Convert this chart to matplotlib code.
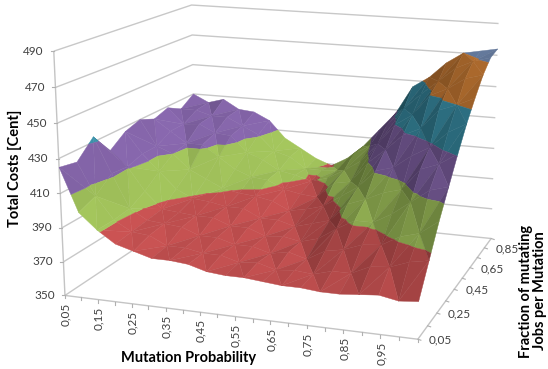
import numpy as np
import matplotlib
matplotlib.use("Agg")
import matplotlib.pyplot as plt
from matplotlib.collections import PolyCollection

plt.rcParams['font.family'] = ['Lato', 'DejaVu Sans']

# tick labels, comma decimals as printed
mutation_labels = ["0,05", "0,15", "0,25", "0,35", "0,45", "0,55", "0,65", "0,75", "0,85", "0,95"]
fraction_labels = ["0,05", "0,25", "0,45", "0,65", "0,85"]
cost_ticks = [350, 370, 390, 410, 430, 450, 470, 490]

mutation_prob = np.arange(20) * 0.05 + 0.05
job_fraction = np.arange(10) * 0.1 + 0.05

# total cost per mutation probability, one value per job fraction 0.05 .. 0.95
p05 = [425, 423, 433, 420, 427, 430, 426, 429, 424, 430]
p10 = [400, 404, 412, 411, 414, 414, 419, 419, 424, 425]
p15 = [391, 391, 392, 397, 404, 410, 412, 420, 421, 428]
p20 = [384, 385, 386, 387, 394, 401, 412, 415, 421, 422]
p25 = [381, 384, 385, 386, 389, 396, 405, 414, 416, 421]
p30 = [378, 379, 384, 385, 388, 391, 398, 404, 411, 416]
p35 = [378, 379, 380, 385, 386, 389, 394, 400, 401, 405]
p40 = [377, 377, 380, 381, 386, 388, 393, 394, 398, 399]
p45 = [374, 377, 377, 381, 381, 386, 388, 392, 391, 393]
p50 = [373, 374, 377, 377, 381, 381, 386, 389, 391, 389]
p55 = [373, 375, 374, 378, 378, 383, 385, 392, 392, 395]
p60 = [372, 372, 376, 376, 381, 386, 395, 398, 404, 404]
p65 = [371, 373, 373, 379, 384, 393, 397, 405, 410, 416]
p70 = [371, 372, 379, 386, 395, 400, 410, 417, 425, 428]
p75 = [370, 375, 381, 392, 399, 411, 419, 430, 436, 446]
p80 = [370, 375, 385, 392, 404, 414, 429, 437, 446, 453]
p85 = [371, 380, 386, 398, 407, 422, 434, 450, 455, 463]
p90 = [372, 381, 392, 406, 420, 428, 446, 455, 464, 470]
p95 = [370, 385, 395, 414, 424, 438, 450, 462, 469, 472]
p100 = [371, 387, 403, 417, 431, 444, 455, 465, 472, 474]
costs = np.array([p05, p10, p15, p20, p25, p30, p35, p40, p45, p50,
                  p55, p60, p65, p70, p75, p80, p85, p90, p95, p100], dtype=float)

band_colors = ['#4f81bd', '#c04f4f', '#9cbc58', '#8263a6', '#3a90a8', '#cc7d35', '#7189b0']


# camera: box corners (0..1 along each axis) and where they land on the canvas
corners3d = np.array([[0, 0, 0], [0, 0, 1], [1, 0, 0], [1, 1, 0],
                      [1, 1, 1], [0, 1, 1], [0, 1, 0], [1, 0, 1]], dtype=float)
corners2d = np.array([[65, 293], [53, 49], [419, 340], [491, 237],
                      [498, 21], [193, 6], [195, 211], [423, 82]], dtype=float)
rows = []
for (X, Y, Z), (u, v) in zip(corners3d, corners2d):
    rows.append([X, Y, Z, 1, 0, 0, 0, 0, -u * X, -u * Y, -u * Z, -u])
    rows.append([0, 0, 0, 0, X, Y, Z, 1, -v * X, -v * Y, -v * Z, -v])
P = np.linalg.svd(np.array(rows))[2][-1].reshape(3, 4)
if (P @ [0.5, 0.5, 0.5, 1])[2] < 0:
    P = -P


def project(pts):
    pts = np.atleast_2d(pts)
    h = P @ np.c_[pts, np.ones(len(pts))].T
    return (h[:2] / h[2]).T, h[2]


def floor_point(x, y):
    return project([x, y, 0.0])[0][0]


def clip_band(tri, lo, hi):
    # keep the part of a triangle that lies between two cost levels
    poly = list(tri)
    for level, sign in ((lo, 1), (hi, -1)):
        out = []
        for i in range(len(poly)):
            a, b = poly[i], poly[(i + 1) % len(poly)]
            da, db = sign * (a[2] - level), sign * (b[2] - level)
            if da >= 0:
                out.append(a)
            if da * db < 0:
                out.append(a + (b - a) * da / (da - db))
        poly = out
        if not poly:
            break
    return poly


fig = plt.figure(figsize=(5.48, 3.69), dpi=100)
ax = fig.add_axes([0, 0, 1, 1])
ax.set_xlim(0, 548)
ax.set_ylim(369, 0)
ax.axis('off')


def line3d(x, y, z, **kw):
    uv = project(np.c_[x, y, z])[0]
    ax.plot(uv[:, 0], uv[:, 1], solid_capstyle='butt', **kw)


# walls
grid = dict(color='#c8c8c8', lw=1.0, zorder=1)
for c in cost_ticks:
    h = (c - 350) / 140.0
    line3d([0, 0, 1], [0, 1, 1], [h, h, h], **grid)

# axes and tick marks
axis = dict(color='#c4c4c4', lw=1.0, zorder=1)
tick = dict(color='#b0b0b0', lw=0.8, zorder=1)
line3d([0, 0], [0, 0], [0, 1], **axis)
line3d([0, 1, 1], [0, 0, 1], [0, 0, 0], **axis)
for c in cost_ticks:
    uv = project([0, 0, (c - 350) / 140.0])[0][0]
    ax.plot([uv[0] - 3, uv[0]], [uv[1], uv[1]], **tick)
    ax.text(uv[0] - 10, uv[1], str(c), ha='right', va='center', fontsize=8.5, color='#404040')
# one tick per category slot, the axis ends one slot past the last labelled pair
for k in range(21):
    uv = floor_point(k / 20, 0)
    ax.plot([uv[0], uv[0]], [uv[1], uv[1] + 3], **tick)
for i, lab in enumerate(mutation_labels):
    uv = floor_point(2 * i / 20, 0)
    ax.text(uv[0] + 1, uv[1] + 7, lab, rotation=90, ha='center', va='top', fontsize=8.5, color='#404040')
for k in range(10):
    uv = floor_point(1, k / 9)
    ax.plot([uv[0], uv[0] + 3], [uv[1], uv[1] + 1], **tick)
for i, lab in enumerate(fraction_labels):
    uv = floor_point(1, 2 * i / 9)
    ax.text(uv[0] + 11, uv[1] + 1, lab, ha='left', va='center', fontsize=8.5, color='#404040')

# surface, split into triangles and cut along the cost bands
light = np.array([0.62, -0.12, 0.78])
light = light / np.linalg.norm(light)
scale = np.array([1.0, 0.75, 0.8])
nm, nf = costs.shape
M, F = np.meshgrid(mutation_prob, job_fraction, indexing='ij')
bx, by = (M - 0.05) / 0.95, (F - 0.05) / 0.9
grid_pts = np.dstack([bx, by, costs])

# vertex normals give the broad shading, facet normals only add some texture
dzdx = np.gradient(costs / 140.0 * scale[2], bx[:, 0] * scale[0], axis=0)
dzdy = np.gradient(costs / 140.0 * scale[2], by[0] * scale[1], axis=1)
smooth_n = np.dstack([-dzdx, -dzdy, np.ones_like(costs)])
smooth_n = smooth_n / np.linalg.norm(smooth_n, axis=2, keepdims=True)


def tone(n):
    return 0.58 + 0.48 * (n @ light)


faces = []
for i in range(nm - 1):
    for j in range(nf - 1):
        a, b, c, d = (i, j), (i + 1, j), (i + 1, j + 1), (i, j + 1)
        if (i + j) % 2 == 0:
            faces += [(a, b, c), (a, c, d)]
        else:
            faces += [(a, b, d), (b, c, d)]

polys, colors, depths = [], [], []
for ids in faces:
    tri3 = np.array([grid_pts[v] for v in ids])
    scaled = tri3 * [1, 1, 1 / 140.0] * scale
    n = np.cross(scaled[1] - scaled[0], scaled[2] - scaled[0])
    n = n / np.linalg.norm(n)
    if n[2] < 0:
        n = -n
    broad = np.mean([tone(smooth_n[v]) for v in ids])
    shade = np.clip(broad + 0.75 * (tone(n) - broad), 0.42, 1.15)
    for k in range(len(band_colors)):
        lo, hi = 350 + 20 * k, 370 + 20 * k
        part = clip_band(list(tri3), lo, hi)
        if len(part) < 3:
            continue
        part = np.array(part)
        part3 = np.c_[part[:, 0], part[:, 1], (part[:, 2] - 350) / 140.0]
        uv, w = project(part3)
        rgb = np.clip(np.array(matplotlib.colors.to_rgb(band_colors[k])) * shade, 0, 1)
        polys.append(uv)
        colors.append(rgb)
        depths.append(w.mean())

order = np.argsort(depths)[::-1]
ax.add_collection(PolyCollection([polys[i] for i in order],
                                 facecolors=[colors[i] for i in order],
                                 edgecolors=[colors[i] for i in order],
                                 linewidths=0.3, zorder=3))

# axis titles
title = dict(fontsize=10.5, fontweight='bold', color='black')
ax.text(15, 168, "Total Costs [Cent]", rotation=90, ha='center', va='center', **title)
ax.text(189, 358, "Mutation Probability", ha='center', va='center', **title)
ax.text(533, 291, "Fraction of mutating\nJobs per Mutation", rotation=90, linespacing=1.05,
        ha='center', va='center', multialignment='center', **title)

fig.savefig("out.png", dpi=100)
